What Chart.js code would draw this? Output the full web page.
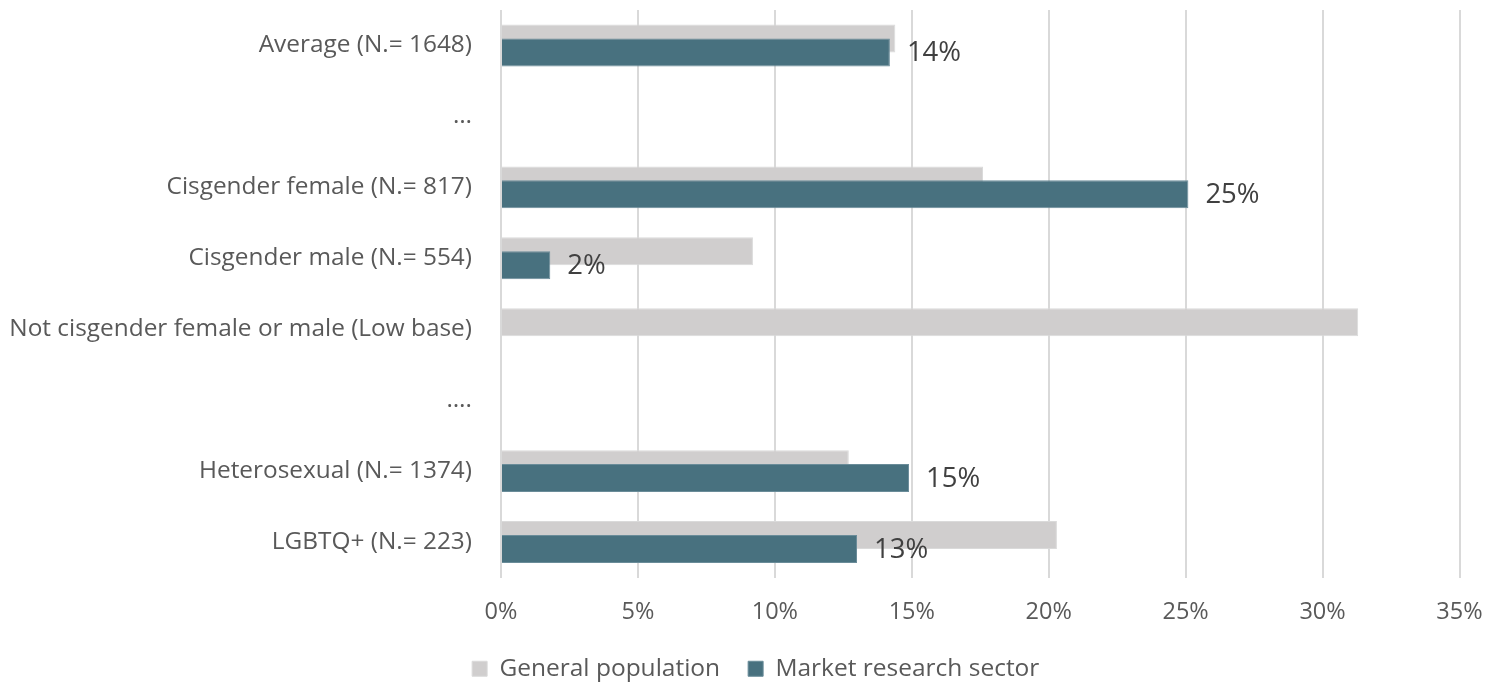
<!DOCTYPE html>
<html>
  <head>
    <title>General population vs market research sector</title>
    <meta charset="utf-8">
    <style>
      html, body { margin: 0; padding: 0; background: #fff; overflow: hidden; }
      #wrap { width: 1485px; height: 691px; }
    </style>
  </head>
  <body>
    <div id="wrap">
      <canvas id="barChart"></canvas>
    </div>

    <script src="https://cdn.jsdelivr.net/npm/chart.js"></script>
    <script>
      var categories = [
        'Average (N.= 1648)',
        '…',
        'Cisgender female (N.= 817)',
        'Cisgender male (N.= 554)',
        'Not cisgender female or male (Low base)',
        '….',
        'Heterosexual (N.= 1374)',
        'LGBTQ+ (N.= 223)'
      ];
      var general_data = [14.4, null, 17.6, 9.2, 31.3, null, 12.7, 20.3];
      var market_data = [14.2, null, 25.1, 1.8, null, null, 14.9, 13.0];
      var x_ticks = [0, 5, 10, 15, 20, 25, 30, 35];

      var textColor = '#595959';
      Chart.defaults.font.family = '"Open Sans", sans-serif';
      Chart.defaults.color = textColor;

      // Excel draws the second series over the first one, chart.js does the opposite,
      // so skip the market bars in the normal pass and paint them after the grey ones
      var drawOrder = {
        id: 'drawOrder',
        beforeDatasetDraw: function (chart, args) {
          if (args.index === 1) return false;
        },
        afterDatasetDraw: function (chart, args) {
          if (args.index === 0) {
            chart.getDatasetMeta(1).controller.draw();
          }
        }
      };

      // legend sits a bit right of the canvas centre in the original
      var legendShift = {
        id: 'legendShift',
        afterLayout: function (chart) {
          chart.legend.left += 26;
          chart.legend.right += 26;
        }
      };

      // value labels at the end of the market research bars
      var barLabels = {
        id: 'barLabels',
        afterDatasetsDraw: function (chart) {
          var ctx = chart.ctx;
          var meta = chart.getDatasetMeta(1);
          ctx.save();
          ctx.font = '27.5px "Open Sans", sans-serif';
          ctx.fillStyle = '#404040';
          ctx.textAlign = 'left';
          ctx.textBaseline = 'middle';
          meta.data.forEach(function (bar, i) {
            var v = market_data[i];
            if (v === null) return;
            ctx.fillText(Math.round(v) + '%', bar.x + 17, bar.y + 1);
          });
          ctx.restore();
        }
      };

      var config = {
        type: 'bar',
        data: {
          labels: categories,
          datasets: [{
            label: 'General population',
            data: general_data,
            backgroundColor: '#D0CECE',
            borderColor: '#DADADA',
            borderWidth: 1,
            categoryPercentage: 0.394,
            barPercentage: 2.0
          }, {
            label: 'Market research sector',
            data: market_data,
            backgroundColor: '#48717F',
            borderColor: '#6A8C99',
            borderWidth: 1,
            categoryPercentage: 0.394,
            barPercentage: 2.0
          }]
        },
        options: {
          indexAxis: 'y',
          responsive: true,
          maintainAspectRatio: false,
          animation: false,
          layout: {
            padding: { top: 10, right: 25.5, left: 0, bottom: 0 }
          },
          scales: {
            x: {
              min: 0,
              max: 35,
              afterBuildTicks: function (scale) {
                scale.ticks = x_ticks.map(function (v) { return { value: v }; });
              },
              ticks: {
                callback: function (v) { return v + '%'; },
                font: { size: 23.5 },
                color: textColor,
                padding: 21,
                maxRotation: 0
              },
              grid: {
                color: '#D9D9D9',
                lineWidth: 2,
                drawTicks: false
              },
              border: { display: false },
              afterFit: function (scale) {
                scale.height = 51;
                scale.paddingLeft = 0;
                scale.paddingRight = 0;
              }
            },
            y: {
              ticks: {
                font: { size: 24.4 },
                color: textColor,
                padding: 29
              },
              grid: { display: false, drawTicks: false },
              border: { display: false },
              afterFit: function (scale) {
                scale.width = 501;
                scale.paddingTop = 0;
                scale.paddingBottom = 0;
              }
            }
          },
          plugins: {
            legend: {
              position: 'bottom',
              labels: {
                boxWidth: 15,
                boxHeight: 15,
                font: { size: 24.5 },
                color: textColor,
                padding: 28
              }
            },
            tooltip: { enabled: false }
          }
        },
        plugins: [drawOrder, legendShift, barLabels]
      };

      var barChart = new Chart(
        document.getElementById('barChart'),
        config
      );
    </script>
  </body>
</html>
